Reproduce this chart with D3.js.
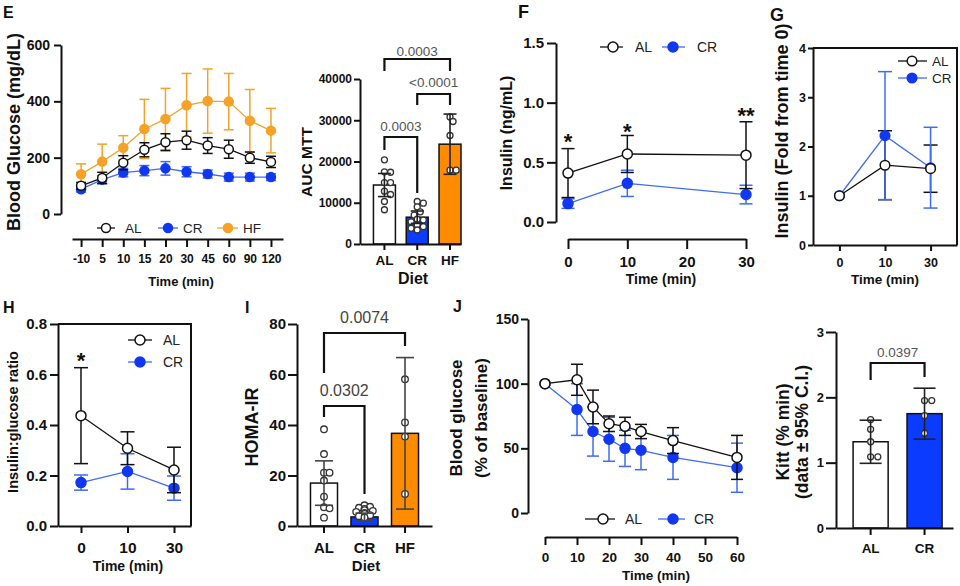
<!DOCTYPE html>
<html><head><meta charset="utf-8">
<script src="https://cdn.jsdelivr.net/npm/d3@7"></script>
<style>
body{margin:0;background:#fff;}
svg{display:block;}
</style></head><body>
<svg id="chart" width="960" height="586"></svg>
<script>
// ---------------- DATA ----------------
// Panel E: glucose time course (mg/dL)
const eTimes = ["-10","5","10","15","20","30","45","60","90","120"];
const eYTicks = [0,200,400,600];
const eAL = [100,128,182,228,255,262,243,230,200,185];
const eALerr = [12,20,25,25,30,32,28,32,20,20];
const eCR = [88,122,147,154,162,150,142,131,131,131];
const eCRerr = [10,14,15,18,24,18,14,14,14,12];
const eHF = [141,186,235,302,337,386,401,399,331,296];
const eHFerr = [37,62,43,105,109,113,114,100,111,79];

// Panel E: AUC MTT
const dietGroups = ["AL","CR","HF"];
const aucYTicks = [0,10000,20000,30000,40000];
const aucMean = [14300,6500,24200];
const aucSD = [2800,1500,7300];
const aucPtsAL = [20400,17500,17400,14900,14900,12800,12000,10300,8300];
const aucPtsCR = [10300,9900,9000,7800,7000,6000,5800,5400,4600,4200,3800,3400];
const aucPtsHF = [30800,29700,26300,17900,17900];
const aucComparisons = [["AL","HF","0.0003"],["CR","HF","<0.0001"],["AL","CR","0.0003"]];

// Panel F: insulin (ng/mL)
const fTimes = [0,10,30];
const fXTicks = [0,10,20,30];
const fYTicks = [0,0.5,1.0,1.5];
const fAL = [0.41,0.57,0.56];
const fALerr = [0.205,0.155,0.28];
const fCR = [0.154,0.324,0.23];
const fCRerr = [0.04,0.11,0.078];
const fStars = ["*","*","**"];

// Panel G: insulin fold from time 0
const gTimes = ["0","10","30"];
const gYTicks = [0,1,2,3,4];
const gAL = [1,1.62,1.55];
const gALerr = [0,0.7,0.48];
const gCR = [1,2.22,1.57];
const gCRerr = [0,1.3,0.82];

// Panel H: insulin:glucose ratio
const hTimes = ["0","10","30"];
const hYTicks = [0,0.2,0.4,0.6,0.8];
const hAL = [0.437,0.308,0.222];
const hALerr = [0.19,0.065,0.09];
const hCR = [0.172,0.216,0.15];
const hCRerr = [0.03,0.07,0.048];

// Panel I: HOMA-IR
const homaYTicks = [0,20,40,60,80];
const homaMean = [17,3.6,36.7];
const homaSD = [8.8,1.5,30];
const homaPtsAL = [38.3,28.5,21.1,21.1,18,11.6,7.4,7,3.3];
const homaPtsCR = [8.2,7.6,7.2,6.8,6.3,6.0,5.6,5.2,4.8,4.3,3.9,3.4];
const homaPtsHF = [58.1,41,35.4,12.7];
const homaComparisons = [["AL","HF","0.0074"],["AL","CR","0.0302"]];

// Panel J: ITT blood glucose (% of baseline)
const jTimes = [0,10,15,20,25,30,40,60];
const jXTicks = [0,10,20,30,40,50,60];
const jYTicks = [0,50,100,150];
const jAL = [100,103,82,69,67,63,56,43];
const jALerr = [0,12,13,6,7,5.5,10,17];
const jCR = [100,80,63,57,50,48.5,43,35];
const jCRerr = [0,20,19,17,14,15,17,19];

// Panel J right: Kitt
const kittGroups = ["AL","CR"];
const kittYTicks = [0,1,2,3];
const kittMean = [1.32,1.75];
const kittCI = [0.33,0.39];
const kittPtsAL = [1.66,1.51,1.32,1.09,1.09];
const kittPtsCR = [1.95,1.95,1.72,1.45];
const kittComparisons = [["AL","CR","0.0397"]];

// ---------------- STYLE ----------------
const FONT = '"Liberation Sans", Arial, Helvetica, sans-serif';
const INK = "#111";
const BLUE_M = "#1237f2";
const BLUE_L = "#3d6cf0";
const ORANGE_L = "#f5a226";
const ORANGE_B = "#ff8c00";
const BLUE_B = "#0b3bff";
const fmtInt = d3.format("d");
const fmt1 = d3.format(".1f");

const svg = d3.select("#chart");

function axisStyle(g, fs) {
  g.attr("font-family", FONT).attr("font-size", fs).attr("font-weight", "bold");
  g.select(".domain").attr("stroke", INK).attr("stroke-width", 2);
  g.selectAll(".tick line").attr("stroke", INK).attr("stroke-width", 2);
  g.selectAll(".tick text").attr("fill", INK);
}
function text(x, y, s, o = {}) {
  return svg.append("text").attr("x", x).attr("y", y).text(s)
    .attr("font-family", FONT).attr("font-size", o.fs || 13)
    .attr("font-weight", o.w || "bold").attr("fill", o.fill || INK)
    .attr("text-anchor", o.anchor || "middle");
}
function vtext(x, y, s, o = {}) {
  return svg.append("text").attr("transform", `translate(${x},${y}) rotate(-90)`).text(s)
    .attr("font-family", FONT).attr("font-size", o.fs || 13)
    .attr("font-weight", o.w || "bold").attr("fill", o.fill || INK)
    .attr("text-anchor", "middle");
}

// line series with error bars
function drawSeries(xs, vals, errs, x, y, st) {
  const g = svg.append("g");
  const pts = xs.map((t, i) => ({cx: x(t), v: vals[i], e: errs[i]}));
  const eb = g.append("g").attr("stroke", st.err || st.line).attr("stroke-width", st.ew || 1.5);
  pts.filter(p => p.e > 0).forEach(p => {
    const y0 = y(p.v - p.e), y1 = y(p.v + p.e);
    eb.append("line").attr("x1", p.cx).attr("x2", p.cx).attr("y1", y0).attr("y2", y1);
    [y0, y1].forEach(yy => eb.append("line").attr("x1", p.cx - st.cap / 2).attr("x2", p.cx + st.cap / 2).attr("y1", yy).attr("y2", yy));
  });
  g.append("path").datum(pts).attr("fill", "none").attr("stroke", st.line).attr("stroke-width", st.lw || 1.3)
    .attr("d", d3.line().x(p => p.cx).y(p => y(p.v)));
  g.selectAll("circle").data(pts).join("circle")
    .attr("cx", p => p.cx).attr("cy", p => y(p.v)).attr("r", st.r)
    .attr("fill", st.fill).attr("stroke", st.stroke).attr("stroke-width", st.sw || 1.5);
}
function legendItem(x0, x1, cx, y, tx, label, st, fs) {
  svg.append("line").attr("x1", x0).attr("x2", x1).attr("y1", y).attr("y2", y)
    .attr("stroke", st.line).attr("stroke-width", st.lw || 1.3);
  svg.append("circle").attr("cx", cx).attr("cy", y).attr("r", st.r)
    .attr("fill", st.fill).attr("stroke", st.stroke).attr("stroke-width", st.sw || 1.5);
  text(tx, y + fs * 0.36, label, {fs: fs, w: "normal", anchor: "start", fill: "#222"});
}
// simple deterministic beeswarm (allows partial overlap via factor)
function swarm(vals, y, cx, r, factor, maxOff) {
  const placed = [];
  const d = 2 * r * factor;
  return vals.map(v => {
    const py = y(v);
    const cands = [0];
    for (let k = 1; k < 12; k++) { cands.push(k * d * 0.6, -k * d * 0.6); }
    let px = cx;
    for (const o of cands) {
      if (Math.abs(o) > maxOff) break;
      const tx = cx + o;
      if (placed.every(p => Math.hypot(p[0] - tx, p[1] - py) >= d)) { px = tx; break; }
    }
    placed.push([px, py]);
    return [px, py];
  });
}
function drawBars(groups, means, sds, ptsList, x, y, fills, st) {
  const g = svg.append("g");
  g.selectAll("rect").data(groups).join("rect")
    .attr("x", d => x(d)).attr("width", x.bandwidth())
    .attr("y", (d, i) => y(means[i])).attr("height", (d, i) => y(0) - y(means[i]))
    .attr("fill", (d, i) => fills[i]).attr("stroke", INK).attr("stroke-width", 1.5);
  groups.forEach((gname, i) => {
    const cx = x(gname) + x.bandwidth() / 2;
    const pts = swarm(ptsList[i], y, cx, st.pr, st.sf || 1, x.bandwidth() / 2 - st.pr);
    g.append("g").selectAll("circle").data(pts).join("circle")
      .attr("cx", p => p[0]).attr("cy", p => p[1]).attr("r", st.pr)
      .attr("fill", "#fff").attr("stroke", "#333").attr("stroke-width", 1.3);
    const y0 = y(means[i] - sds[i]), y1 = y(means[i] + sds[i]);
    const eb = g.append("g").attr("stroke", st.errColor || "#222").attr("stroke-width", 1.6);
    eb.append("line").attr("x1", cx).attr("x2", cx).attr("y1", y0).attr("y2", y1);
    [y0, y1].forEach(yy => eb.append("line").attr("x1", cx - st.cap / 2).attr("x2", cx + st.cap / 2).attr("y1", yy).attr("y2", yy));
  });
}
function bracket(xa, xb, yTop, ya, yb, label, ly, fs, col) {
  svg.append("path").attr("d", `M${xa},${ya}V${yTop}H${xb}V${yb}`)
    .attr("fill", "none").attr("stroke", INK).attr("stroke-width", 2.2);
  text((xa + xb) / 2, ly, label, {fs: fs, w: "normal", fill: col || "#555"});
}

const stAL = {line: INK, fill: "#fff", stroke: INK, err: INK};
const stCR = {line: BLUE_L, fill: BLUE_M, stroke: BLUE_M, err: BLUE_L};
const stHF = {line: ORANGE_L, fill: ORANGE_L, stroke: ORANGE_L, err: ORANGE_L};

// ---------------- PANEL E (line) ----------------
{
  const x = d3.scalePoint().domain(eTimes).range([72, 283]).padding(0.5).align(0.43);
  const y = d3.scaleLinear().domain([0, 600]).range([214, 45]);
  const s = {r: 4.5, cap: 10};
  drawSeries(eTimes, eHF, eHFerr, x, y, {...stHF, ...s});
  drawSeries(eTimes, eCR, eCRerr, x, y, {...stCR, ...s});
  drawSeries(eTimes, eAL, eALerr, x, y, {...stAL, ...s});
  svg.append("g").attr("transform", "translate(61,0)")
    .call(d3.axisLeft(y).tickValues(eYTicks).tickFormat(fmtInt).tickSize(7).tickPadding(4).tickSizeOuter(0)).call(axisStyle, 14);
  svg.append("g").attr("transform", "translate(0,239)")
    .call(d3.axisBottom(x).tickSize(8).tickPadding(7.5).tickSizeOuter(0)).call(axisStyle, 12);
  vtext(20, 132, "Blood Glucose (mg/dL)", {fs: 18});
  text(181, 286, "Time (min)", {fs: 13});
  legendItem(97, 115, 106, 228, 125, "AL", {...stAL, r: 4.5}, 13.5);
  legendItem(158, 178, 168, 228, 183, "CR", {...stCR, r: 4.5}, 13.5);
  legendItem(217, 238, 228, 228, 243, "HF", {...stHF, r: 4.5}, 13.5);
  text(3, 18, "E", {fs: 16, anchor: "start"});
}

// ---------------- PANEL E (AUC bars) ----------------
{
  const x = d3.scaleBand().domain(dietGroups).range([360, 461]).paddingInner(0.33).paddingOuter(0.205).align(1);
  const y = d3.scaleLinear().domain([0, 40000]).range([244, 79]);
  drawBars(dietGroups, aucMean, aucSD, [aucPtsAL, aucPtsCR, aucPtsHF], x, y, ["#fff", BLUE_B, ORANGE_B], {pr: 3, cap: 13, sf: 0.85});
  svg.append("g").attr("transform", "translate(360,0)")
    .call(d3.axisLeft(y).tickValues(aucYTicks).tickFormat(fmtInt).tickSize(6).tickPadding(2).tickSizeOuter(0)).call(axisStyle, 12);
  svg.append("g").attr("transform", "translate(0,244)")
    .call(d3.axisBottom(x).tickSize(6).tickPadding(5.4).tickSizeOuter(0)).call(axisStyle, 13.5);
  vtext(312, 162, "AUC MTT", {fs: 15.5});
  text(413, 284, "Diet", {fs: 16});
  const c = g => x(g) + x.bandwidth() / 2;
  const geo = [[59, 71, 71, 56], [94, 105, 105, 87], [137, 150, 193, 131]];
  aucComparisons.forEach((cmp, i) => {
    const [yt, ya, yb, ly] = geo[i];
    bracket(c(cmp[0]), c(cmp[1]), yt, ya, yb, cmp[2], ly, 13.5, "#555");
  });
}

// ---------------- PANEL F ----------------
{
  const x = d3.scaleLinear().domain([0, 30]).range([568, 746]);
  const y = d3.scaleLinear().domain([0, 1.5]).range([222, 43]);
  const s = {r: 5, cap: 13};
  drawSeries(fTimes, fCR, fCRerr, x, y, {...stCR, ...s});
  drawSeries(fTimes, fAL, fALerr, x, y, {...stAL, ...s});
  svg.append("g").attr("transform", "translate(556,0)")
    .call(d3.axisLeft(y).tickValues(fYTicks).tickFormat(fmt1).tickSize(9).tickPadding(3).tickSizeOuter(0)).call(axisStyle, 15);
  svg.append("g").attr("transform", "translate(0,239)")
    .call(d3.axisBottom(x).tickValues(fXTicks).tickFormat(fmtInt).tickSize(10).tickPadding(7.4).tickSizeOuter(0)).call(axisStyle, 15);
  vtext(512, 133, "Insulin (ng/mL)", {fs: 16});
  text(661, 284, "Time (min)", {fs: 14});
  legendItem(600, 623, 613, 47, 635, "AL", {...stAL, r: 5}, 14);
  legendItem(662, 685, 673, 47, 697, "CR", {...stCR, r: 5}, 14);
  fTimes.forEach((t, i) => {
    const starY = [149, 139, 123][i];
    text(x(t), starY, fStars[i], {fs: 22});
  });
  text(518, 18, "F", {fs: 18, anchor: "start"});
}

// ---------------- PANEL G ----------------
{
  const x = d3.scalePoint().domain(gTimes).range([813, 957]).padding(0.58);
  const y = d3.scaleLinear().domain([0, 4]).range([245, 48]);
  const s = {r: 4.8, cap: 14};
  drawSeries(gTimes, gAL, gALerr, x, y, {...stAL, ...s, r: 0.01});
  drawSeries(gTimes, gCR, gCRerr, x, y, {...stCR, ...s});
  // AL markers on top
  svg.append("g").selectAll("circle").data(gTimes).join("circle")
    .attr("cx", d => x(d)).attr("cy", (d, i) => y(gAL[i])).attr("r", 4.8)
    .attr("fill", "#fff").attr("stroke", INK).attr("stroke-width", 1.5);
  svg.append("path").attr("d", "M813,48H957V245").attr("fill", "none").attr("stroke", INK).attr("stroke-width", 2);
  svg.append("g").attr("transform", "translate(813,0)")
    .call(d3.axisLeft(y).tickValues(gYTicks).tickFormat(fmtInt).tickSize(5).tickPadding(2).tickSizeOuter(0)).call(axisStyle, 12.5);
  svg.append("g").attr("transform", "translate(0,245)")
    .call(d3.axisBottom(x).tickSize(6).tickPadding(7).tickSizeOuter(0)).call(axisStyle, 12.5);
  vtext(788, 131, "Insulin (Fold from time 0)", {fs: 18});
  text(885, 284, "Time (min)", {fs: 13.5});
  legendItem(898, 927, 912, 61, 932, "AL", {...stAL, r: 4.8}, 13.5);
  legendItem(898, 927, 912, 78, 932, "CR", {...stCR, r: 4.8}, 13.5);
  text(770, 21, "G", {fs: 18, anchor: "start"});
}

// ---------------- PANEL H ----------------
{
  const x = d3.scalePoint().domain(hTimes).range([58, 191]).padding(0.43).align(0.575);
  const y = d3.scaleLinear().domain([0, 0.8]).range([526, 324]);
  const s = {r: 5, cap: 14};
  drawSeries(hTimes, hCR, hCRerr, x, y, {...stCR, ...s});
  drawSeries(hTimes, hAL, hALerr, x, y, {...stAL, ...s});
  svg.append("path").attr("d", "M58,324H191V526").attr("fill", "none").attr("stroke", INK).attr("stroke-width", 2);
  svg.append("g").attr("transform", "translate(58,0)")
    .call(d3.axisLeft(y).tickValues(hYTicks).tickFormat(fmt1).tickSize(8).tickPadding(3).tickSizeOuter(0)).call(axisStyle, 15);
  svg.append("g").attr("transform", "translate(0,526)")
    .call(d3.axisBottom(x).tickSize(7).tickPadding(9).tickSizeOuter(0)).call(axisStyle, 15.5);
  vtext(18, 422, "Insulin:glucose ratio", {fs: 14.5});
  text(128, 571, "Time (min)", {fs: 14});
  legendItem(128, 152, 140, 340, 163, "AL", {...stAL, r: 5}, 14);
  legendItem(128, 152, 140, 362, 163, "CR", {...stCR, r: 5}, 14);
  text(x("0"), 368, "*", {fs: 22});
  text(3, 313, "H", {fs: 16, anchor: "start"});
}

// ---------------- PANEL I ----------------
{
  const x = d3.scaleBand().domain(dietGroups).range([297, 432]).paddingInner(0.333).paddingOuter(0.333);
  const y = d3.scaleLinear().domain([0, 80]).range([526, 324]);
  drawBars(dietGroups, homaMean, homaSD, [homaPtsAL, homaPtsCR, homaPtsHF], x, y, ["#fff", BLUE_B, ORANGE_B], {pr: 3.3, cap: 18, errColor: "#444", sf: 0.7});
  svg.append("g").attr("transform", "translate(297,0)")
    .call(d3.axisLeft(y).tickValues(homaYTicks).tickFormat(fmtInt).tickSize(9).tickPadding(2).tickSizeOuter(0)).call(axisStyle, 15);
  svg.append("g").attr("transform", "translate(0,526)")
    .call(d3.axisBottom(x).tickSize(7).tickPadding(9.3).tickSizeOuter(0)).call(axisStyle, 15);
  vtext(258, 427, "HOMA-IR", {fs: 18});
  text(366, 571, "Diet", {fs: 15});
  const c = g => x(g) + x.bandwidth() / 2;
  const geo = [[333, 373, 346, 323], [406, 417, 494, 396]];
  homaComparisons.forEach((cmp, i) => {
    const [yt, ya, yb, ly] = geo[i];
    bracket(c(cmp[0]), c(cmp[1]), yt, ya, yb, cmp[2], ly, 16, "#444");
  });
  text(245, 313, "I", {fs: 16, anchor: "start"});
}

// ---------------- PANEL J ----------------
{
  const x = d3.scaleLinear().domain([0, 60]).range([545, 737]);
  const y = d3.scaleLinear().domain([0, 150]).range([513, 319]);
  const s = {r: 5, cap: 12};
  drawSeries(jTimes, jCR, jCRerr, x, y, {...stCR, ...s});
  drawSeries(jTimes, jAL, jALerr, x, y, {...stAL, ...s});
  svg.append("g").attr("transform", "translate(528,0)")
    .call(d3.axisLeft(y).tickValues(jYTicks).tickFormat(fmtInt).tickSize(7).tickPadding(2).tickSizeOuter(0)).call(axisStyle, 14);
  svg.append("g").attr("transform", "translate(0,537)")
    .call(d3.axisBottom(x).tickValues(jXTicks).tickFormat(fmtInt).tickSize(8).tickPadding(7.4).tickSizeOuter(0)).call(axisStyle, 13.5);
  vtext(462, 418, "Blood glucose", {fs: 17});
  vtext(487, 418, "(% of baseline)", {fs: 17});
  text(656, 580, "Time (min)", {fs: 13.5});
  legendItem(585, 615, 603, 519, 625, "AL", {...stAL, r: 5}, 14);
  legendItem(658, 685, 673, 519, 694, "CR", {...stCR, r: 5}, 14);
  text(453, 312, "J", {fs: 16, anchor: "start"});
}

// ---------------- PANEL Kitt ----------------
{
  const x = d3.scaleBand().domain(kittGroups).range([836, 953]).paddingInner(0.35).paddingOuter(0.26).align(0.61);
  const y = d3.scaleLinear().domain([0, 3]).range([528, 332]);
  drawBars(kittGroups, kittMean, kittCI, [kittPtsAL, kittPtsCR], x, y, ["#fff", BLUE_B], {pr: 3, cap: 22, sf: 1});
  svg.append("g").attr("transform", "translate(836,0)")
    .call(d3.axisLeft(y).tickValues(kittYTicks).tickFormat(fmtInt).tickSize(10).tickPadding(2).tickSizeOuter(0)).call(axisStyle, 13);
  svg.append("g").attr("transform", "translate(0,528)")
    .call(d3.axisBottom(x).tickSize(7).tickPadding(8.4).tickSizeOuter(0)).call(axisStyle, 13.5);
  vtext(789, 432, "Kitt (% min)", {fs: 17.5});
  vtext(808, 432, "(data \u00b1 95% C.I.)", {fs: 17.5});
  const c = g => x(g) + x.bandwidth() / 2;
  kittComparisons.forEach(cmp => bracket(c(cmp[0]), c(cmp[1]), 363, 380, 377, cmp[2], 357, 13.5, "#555"));
}
</script>
</body></html>
